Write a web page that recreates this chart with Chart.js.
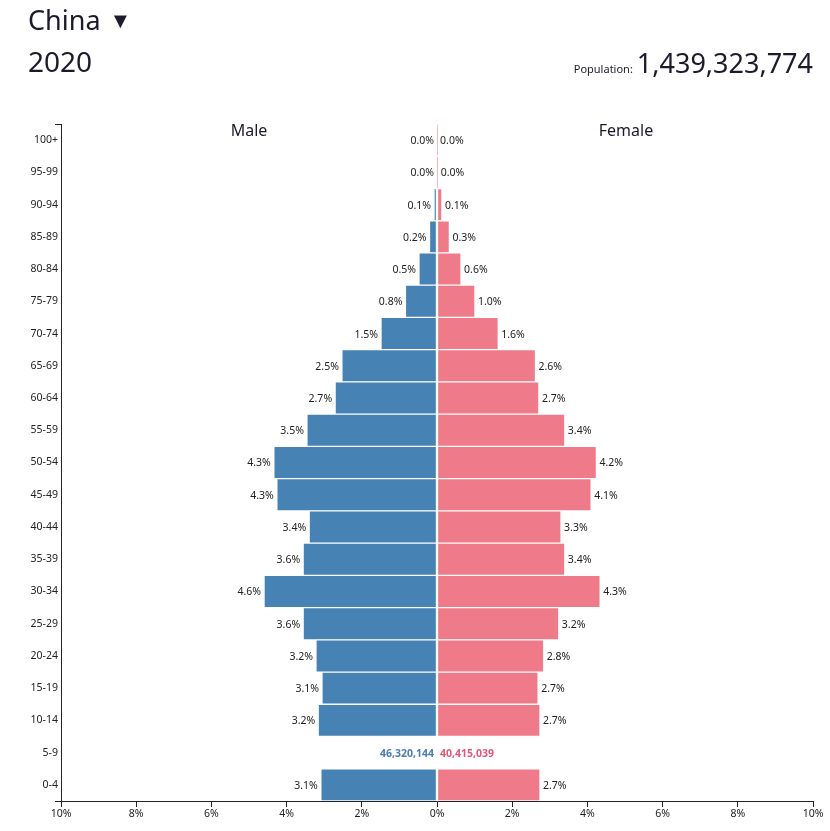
<!DOCTYPE html>
<html>
<head>
<meta charset="utf-8">
<script src="https://cdn.jsdelivr.net/npm/chart.js@4"></script>
<style>
  body { margin: 0; background: #fff; font-family: "Noto Sans", "Open Sans", sans-serif; color: #1b1b2b; }
  #wrap { position: relative; width: 830px; height: 831px; }
  #chart { position: absolute; left: 0; top: 0; }
  .txt { position: absolute; white-space: nowrap; }
  #country { left: 28px; top: 1px; font-size: 27px; }
  #country .arrow { font-size: 22px; margin-left: 9px; vertical-align: 2px; }
  #year { left: 28px; top: 42px; font-size: 28px; }
  #pop { right: 17px; top: 44px; font-size: 27px; }
  #pop small { font-size: 11px; margin-right: 4px; }
  .side { top: 119px; font-size: 16px; transform: translateX(-50%); }
</style>
</head>
<body>
<div id="wrap">
  <canvas id="chart" width="830" height="831"></canvas>
  <div class="txt" id="country">China<span class="arrow">&#9660;</span></div>
  <div class="txt" id="year">2020</div>
  <div class="txt" id="pop"><small>Population:</small>1,439,323,774</div>
  <div class="txt side" style="left:249px">Male</div>
  <div class="txt side" style="left:626px">Female</div>
</div>
<script>
// Grupos etários (de cima para baixo)
const ageGroups = ['100+', '95-99', '90-94', '85-89', '80-84', '75-79', '70-74', '65-69', '60-64', '55-59',
  '50-54', '45-49', '40-44', '35-39', '30-34', '25-29', '20-24', '15-19', '10-14', '5-9', '0-4'];

// Percentual da população total (null = linha destacada)
const malePct = [0, 0, 0.08, 0.2, 0.48, 0.84, 1.49, 2.53, 2.71, 3.46,
  4.34, 4.26, 3.40, 3.56, 4.60, 3.56, 3.22, 3.06, 3.16, null, 3.09];
const femalePct = [0.003, 0.02, 0.13, 0.33, 0.64, 1.01, 1.63, 2.62, 2.71, 3.40,
  4.24, 4.10, 3.30, 3.40, 4.34, 3.24, 2.84, 2.69, 2.74, null, 2.74];

// Linha destacada mostra os valores absolutos
const highlightGroup = '5-9';
const highlightCounts = [46320144, 40415039];

const xTicks = [-10, -8, -6, -4, -2, 0, 2, 4, 6, 8, 10];

const COLORS = {
  male: '#4682b4',
  female: '#ef7a89',
  maleText: '#4a7db3',
  femaleText: '#e0577a',
  label: '#222'
};

const valueLabels = {
  id: 'valueLabels',
  afterDatasetsDraw(chart) {
    const { ctx } = chart;
    ctx.save();
    ctx.font = '10.5px "Noto Sans", sans-serif';
    ctx.textBaseline = 'middle';
    chart.data.datasets.forEach((ds, di) => {
      const meta = chart.getDatasetMeta(di);
      meta.data.forEach((bar, i) => {
        const v = ds.data[i];
        if (v === null) return;
        ctx.fillStyle = COLORS.label;
        const txt = Math.abs(v).toFixed(1) + '%';
        if (di === 0) {
          ctx.textAlign = 'right';
          ctx.fillText(txt, bar.x - 3, bar.y + 1);
        } else {
          ctx.textAlign = 'left';
          ctx.fillText(txt, bar.x + 3, bar.y + 1);
        }
      });
    });
    // valores absolutos da linha destacada
    const idx = ageGroups.indexOf(highlightGroup);
    const y = chart.scales.y.getPixelForValue(idx);
    const x0 = chart.scales.x.getPixelForValue(0);
    ctx.font = 'bold 10.5px "Noto Sans", sans-serif';
    ctx.fillStyle = COLORS.maleText;
    ctx.textAlign = 'right';
    ctx.fillText(highlightCounts[0].toLocaleString('en-US'), x0 - 3, y + 1);
    ctx.fillStyle = COLORS.femaleText;
    ctx.textAlign = 'left';
    ctx.fillText(highlightCounts[1].toLocaleString('en-US'), x0 + 3, y + 1);

    // marcas externas dos eixos
    const area = chart.chartArea;
    ctx.strokeStyle = '#222';
    ctx.lineWidth = 1;
    ctx.beginPath();
    ctx.moveTo(area.left - 6, area.top + 0.5);
    ctx.lineTo(area.left, area.top + 0.5);
    ctx.moveTo(area.left - 6, area.bottom + 0.5);
    ctx.lineTo(area.left, area.bottom + 0.5);
    ctx.stroke();
    ctx.restore();
  }
};

new Chart(document.getElementById('chart'), {
  type: 'bar',
  plugins: [valueLabels],
  data: {
    labels: ageGroups,
    datasets: [
      {
        label: 'Male',
        data: malePct.map(v => v === null ? null : -v),
        backgroundColor: COLORS.male,
        borderColor: 'rgba(255,255,255,0.55)',
        borderWidth: 1,
        borderSkipped: false,
        barPercentage: 1,
        categoryPercentage: 1
      },
      {
        label: 'Female',
        data: femalePct,
        backgroundColor: COLORS.female,
        borderColor: 'rgba(255,255,255,0.55)',
        borderWidth: 1,
        borderSkipped: false,
        barPercentage: 1,
        categoryPercentage: 1
      }
    ]
  },
  options: {
    indexAxis: 'y',
    responsive: false,
    animation: false,
    layout: { padding: { top: 124, right: 17, left: 0, bottom: 0 } },
    plugins: {
      legend: { display: false },
      tooltip: { enabled: false }
    },
    scales: {
      x: {
        stacked: true,
        min: -10,
        max: 10,
        afterBuildTicks(scale) { scale.ticks = xTicks.map(v => ({ value: v })); },
        afterFit(scale) { scale.height = 30; },
        grid: { drawOnChartArea: false, drawTicks: true, tickLength: 6, color: '#222' },
        border: { display: true, color: '#222', width: 1 },
        ticks: {
          padding: 1,
          autoSkip: false,
          maxRotation: 0,
          color: COLORS.label,
          font: { size: 10.5, family: '"Noto Sans", sans-serif' },
          callback: v => Math.abs(v) + '%'
        }
      },
      y: {
        stacked: true,
        afterFit(scale) { scale.width = 61; },
        grid: { display: false, tickLength: 0 },
        border: { display: true, color: '#222', width: 1 },
        ticks: {
          padding: 3,
          autoSkip: false,
          color: COLORS.label,
          font: { size: 10.5, family: '"Noto Sans", sans-serif' }
        }
      }
    }
  }
});
</script>
</body>
</html>
